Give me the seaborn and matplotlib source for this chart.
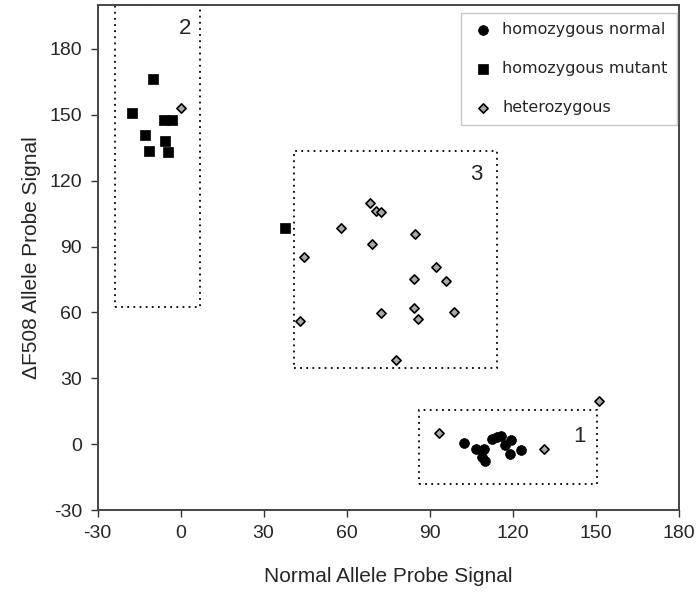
#%% Importing libraries
import pandas as pd
import seaborn as sns
import matplotlib.pyplot as plt
from matplotlib.patches import Rectangle

#%% Data
normal_x = [102.4, 106.7, 109.6, 108.8, 110.0, 112.7, 114.4, 116.0, 117.2, 119.6, 119.0, 123.2]
normal_y = [0.6, -2.0, -2.0, -5.8, -7.6, 2.3, 3.1, 3.7, -0.5, 1.8, -4.6, -2.7]

mutant_x = [-10.1, -17.6, -5.8, -3.1, -13.0, -5.5, -11.3, -4.5, 37.8]
mutant_y = [166.1, 150.9, 147.8, 147.8, 140.8, 138.0, 133.7, 133.2, 98.6]

hetero_x = [0.2, 68.4, 70.5, 72.3, 57.9, 84.8, 69.3, 44.7, 92.4, 84.4, 95.9,
            84.3, 72.3, 98.7, 86.0, 43.1, 77.9, 151.1, 93.4, 131.4]
hetero_y = [153.3, 110.0, 106.2, 105.9, 98.6, 95.9, 91.3, 85.0, 80.8, 75.3, 74.2,
            62.0, 59.9, 60.4, 57.2, 56.1, 38.5, 19.5, 4.9, -2.3]

# cluster boxes: label, x0, x1, y0, y1
box_labels = ['1', '2', '3']
box_x0 = [86.1, -23.6, 40.9]
box_x1 = [150.6, 7.1, 114.4]
box_y0 = [-18.3, 62.6, 34.9]
box_y1 = [15.5, 200.0, 133.4]
box_text_x = [144.3, 1.7, 107.0]
box_text_y = [3.3, 189.3, 123.0]

normal = pd.DataFrame({'x': normal_x, 'y': normal_y})
mutant = pd.DataFrame({'x': mutant_x, 'y': mutant_y})
hetero = pd.DataFrame({'x': hetero_x, 'y': hetero_y})

#%% Plot
sns.set_style('ticks')
plt.rcParams['font.family'] = ['Liberation Sans', 'DejaVu Sans']
plt.rcParams['axes.unicode_minus'] = False

fig = plt.figure(figsize = (6.99, 5.94), dpi = 100)
ax = fig.add_axes([0.1395, 0.1414, 0.8312, 0.8502])

sns.scatterplot(data = normal, x = 'x', y = 'y', marker = 'o', color = 'black',
                s = 50, edgecolor = 'black', linewidth = 0.5, ax = ax,
                label = 'homozygous normal', zorder = 3)
sns.scatterplot(data = mutant, x = 'x', y = 'y', marker = 's', color = 'black',
                s = 52, edgecolor = 'black', linewidth = 0.5, ax = ax,
                label = 'homozygous mutant', zorder = 3)
sns.scatterplot(data = hetero, x = 'x', y = 'y', marker = 'D', color = '#a8a8a8',
                s = 22, edgecolor = 'black', linewidth = 1.2, ax = ax,
                label = 'heterozygous', zorder = 3)

for lab, x0, x1, y0, y1, tx, ty in zip(box_labels, box_x0, box_x1, box_y0, box_y1,
                                       box_text_x, box_text_y):
    ax.add_patch(Rectangle((x0, y0), x1 - x0, y1 - y0, fill = False,
                           edgecolor = 'black', linewidth = 1.3,
                           linestyle = (0, (1, 2.4)), zorder = 2))
    ax.text(tx, ty, lab, fontsize = 16, ha = 'center', va = 'center')

ax.set_xlim(-30, 180)
ax.set_ylim(-30, 200)
ax.set_xticks(range(-30, 181, 30))
ax.set_yticks(range(-30, 181, 30))
ax.tick_params(labelsize = 14, length = 5, width = 1, color = '#333333', pad = 6)
for sp in ax.spines.values():
    sp.set_color('#444444')
    sp.set_linewidth(1.4)

ax.set_xlabel('Normal Allele Probe Signal', fontsize = 15, labelpad = 18)
ax.set_ylabel('\u0394F508 Allele Probe Signal', fontsize = 15, labelpad = 6)

leg = ax.legend(loc = 'upper right', bbox_to_anchor = (0.9974, 0.985),
                borderaxespad = 0, frameon = True, fancybox = False,
                edgecolor = '#bbbbbb', labelspacing = 1.5, handletextpad = 0.4,
                borderpad = 0.6, handlelength = 1.6,
                prop = {'family': 'DejaVu Sans', 'size': 11.5})
leg.get_frame().set_linewidth(1.0)

fig.savefig('out.png', dpi = 100)
